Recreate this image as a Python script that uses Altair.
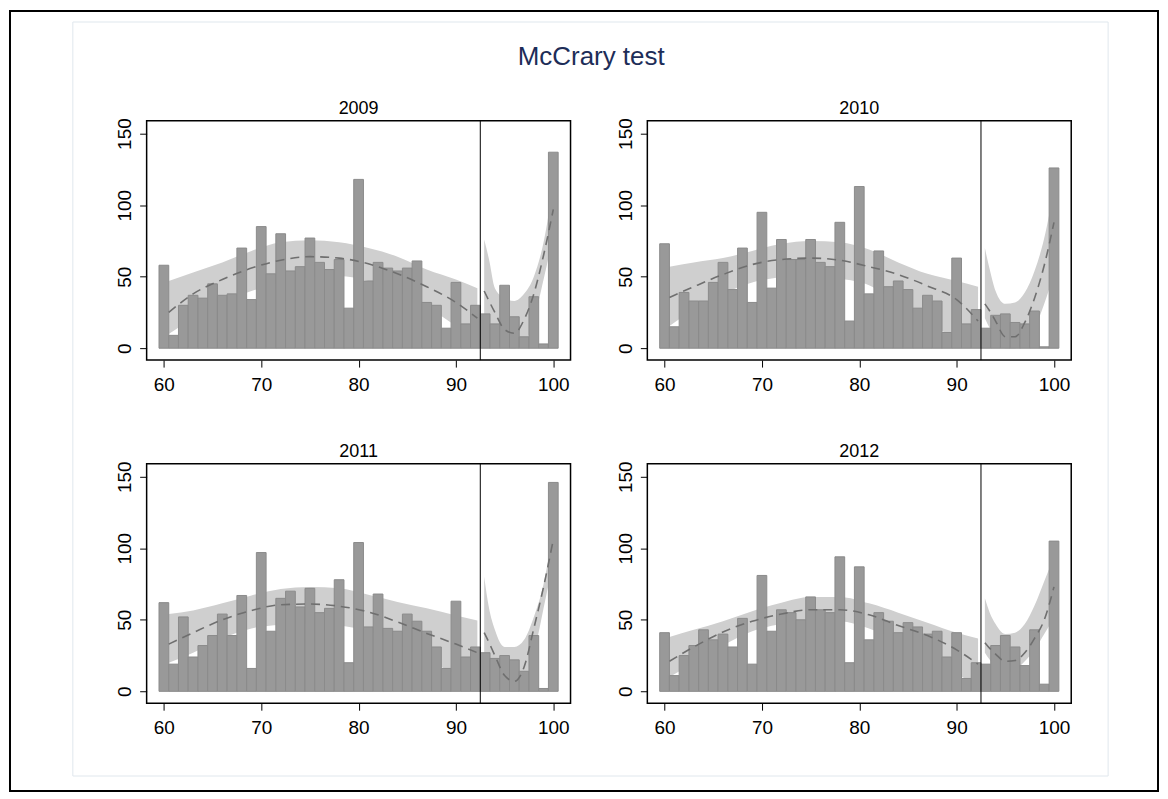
import altair as alt
import pandas as pd

# ---------------- data ----------------
years = [2009, 2010, 2011, 2012]
score = list(range(60, 101))

counts = {
    2009: [58, 9, 30, 37, 35, 45, 37, 38, 70, 34, 85, 52, 80, 54, 57, 77, 60, 55, 62, 28,
           118, 47, 60, 56, 54, 56, 61, 32, 30, 14, 46, 17, 30, 24, 17, 44, 22, 8, 36, 3, 137],
    2010: [73, 15, 39, 33, 33, 46, 60, 41, 70, 32, 95, 42, 76, 62, 62, 76, 60, 57, 88, 19,
           113, 38, 68, 43, 47, 41, 28, 37, 33, 11, 63, 17, 27, 14, 23, 24, 18, 17, 26, 1, 126],
    2011: [62, 19, 52, 24, 32, 39, 54, 39, 67, 16, 97, 42, 65, 70, 59, 72, 55, 58, 78, 20,
           104, 45, 68, 44, 42, 54, 49, 42, 31, 16, 63, 24, 31, 27, 23, 25, 22, 14, 39, 2, 146],
    2012: [41, 11, 25, 32, 43, 36, 40, 31, 51, 19, 81, 42, 57, 55, 50, 66, 57, 55, 94, 20,
           87, 36, 55, 49, 41, 48, 45, 40, 42, 24, 41, 9, 20, 19, 32, 39, 31, 18, 43, 5, 105],
}

left_x = [60.5, 63, 66, 69, 72, 75, 78, 81, 84, 87, 90, 92.2]
right_x = [92.9, 93.4, 94, 95, 96, 97, 98, 99, 100]

fit_left = {
    2009: [25, 38, 48, 56, 61.5, 64, 63, 59, 52, 43, 32, 21],
    2010: [35.5, 43, 51.5, 58.5, 62, 63, 61.5, 57, 51.5, 43.5, 34, 19],
    2011: [33, 41, 50, 56.5, 60.5, 61, 59.5, 55.5, 48.5, 40.5, 33, 27],
    2012: [21, 31, 41.5, 49, 54, 57, 57, 53.5, 46, 39, 29, 19],
}
lo_left = {
    2009: [10, 21, 32, 40, 46, 50, 50.5, 47, 40, 29, 15.5, 4],
    2010: [15.5, 27, 38, 46, 49.5, 50, 48.5, 44, 30.6, 19, 6, 1],
    2011: [20, 27, 37, 44, 46.5, 47.5, 46, 42, 33, 22, 12, 5],
    2012: [10, 20, 32, 42, 47, 49.4, 49, 44, 35, 25, 12, 5],
}
hi_left = {
    2009: [47, 53, 60, 68, 74, 75.5, 74, 70, 64, 55, 48, 42],
    2010: [57, 60, 63, 68, 73, 75, 74, 69, 60, 52, 47, 43],
    2011: [54, 56.5, 61.5, 67, 71.5, 73, 72, 67.5, 62.5, 58, 53, 49.5],
    2012: [38, 43, 49, 56, 62, 66, 66, 61.5, 55, 48, 41, 37],
}
fit_right = {
    2009: [40, 33, 25, 13, 10.5, 20, 38, 65, 97],
    2010: [31, 26, 19, 8, 8, 18, 35, 58, 88],
    2011: [41, 34, 25, 11, 7, 17, 44, 73, 106],
    2012: [34, 30, 26, 21, 21.5, 27, 37, 50, 73],
}
lo_right = {
    2009: [21, 10, 4, 0.5, 0, 3, 20, 48, 79],
    2010: [21, 14, 7, 0, 0, 5, 14, 31, 52],
    2011: [24, 15, 5, 0, 0, 4, 26, 58, 91],
    2012: [27, 22, 17, 13, 15, 21, 29, 40, 51],
}
hi_right = {
    2009: [76, 62, 42, 35, 33, 38, 50, 74, 115],
    2010: [70, 55, 40, 31, 32, 39, 54, 77, 112],
    2011: [80, 58, 43, 31, 31, 36, 52, 75, 114],
    2012: [65, 55, 47, 40, 41, 47, 60, 77, 94],
}

cutoff = 92.5
x_ticks = [60, 70, 80, 90, 100]
y_ticks = [0, 50, 100, 150]
main_title = "McCrary test"

# ---------------- styling ----------------
FONT = "Liberation Sans"
PW, PH = 425, 240
BAR_FILL = "#999999"
BAR_STROKE = "#8b8b8b"
BAND = "#cfcfcf"
LINE = "#6f6f6f"

one = pd.DataFrame({"k": [0]})


def panel(year, decorate=False):
    bars_df = pd.DataFrame({"score": score, "count": counts[year]})
    curve_df = pd.concat([
        pd.DataFrame({"x": left_x, "c": fit_left[year], "lo": lo_left[year],
                      "hi": hi_left[year], "seg": "left"}),
        pd.DataFrame({"x": right_x, "c": fit_right[year], "lo": lo_right[year],
                      "hi": hi_right[year], "seg": "right"}),
    ], ignore_index=True)

    xs = alt.Scale(domain=[58.23, 101.77], nice=False, zero=False)
    ys = alt.Scale(domain=[-8.3, 159], nice=False, zero=False)
    xaxis = alt.Axis(values=x_ticks, title=None, format="d", labelPadding=8)
    yaxis = alt.Axis(values=y_ticks, title=None, format="d", labelAngle=270,
                     labelAlign="center", labelBaseline="alphabetic", labelPadding=9)

    band = alt.Chart(curve_df).mark_area(color=BAND, interpolate="monotone").encode(
        x=alt.X("x:Q", scale=xs, axis=xaxis),
        y=alt.Y("lo:Q", scale=ys, axis=yaxis),
        y2="hi:Q",
        detail="seg:N",
    )
    bars = alt.Chart(bars_df).transform_calculate(
        x0="datum.score - 0.5", x1="datum.score + 0.5"
    ).mark_bar(fill=BAR_FILL, stroke=BAR_STROKE, strokeWidth=1).encode(
        x="x0:Q", x2="x1:Q",
        y="count:Q", y2=alt.datum(0),
    )
    line = alt.Chart(curve_df).mark_line(
        color=LINE, strokeWidth=1.6, strokeDash=[9, 6], interpolate="monotone"
    ).encode(x="x:Q", y="c:Q", detail="seg:N")
    rule = alt.Chart(one).mark_rule(color="black", strokeWidth=1).encode(
        x=alt.datum(cutoff)
    )
    ptitle = alt.Chart(one).mark_text(
        text=str(year), font=FONT, fontSize=18, color="black",
        align="center", baseline="alphabetic"
    ).encode(x=alt.value(PW / 2), y=alt.value(-6.5))

    layers = [band, bars, line, rule, ptitle]
    if decorate:
        inner = alt.Chart(one).mark_rect(
            fillOpacity=0, stroke="#e0e7ed", strokeWidth=1
        ).encode(x=alt.value(-74), x2=alt.value(964), y=alt.value(-99), y2=alt.value(657))
        border = alt.Chart(one).mark_rect(
            fillOpacity=0, stroke="black", strokeWidth=2
        ).encode(x=alt.value(-137), x2=alt.value(1014), y=alt.value(-110), y2=alt.value(672))
        mtitle = alt.Chart(one).mark_text(
            text=main_title, font=FONT, fontSize=26, color="#1d2d58",
            align="center", baseline="alphabetic"
        ).encode(x=alt.value(445.7), y=alt.value(-56.3))
        layers = [inner, border, mtitle] + layers
    return alt.layer(*layers).properties(width=PW, height=PH)


chart = alt.concat(
    panel(2009, decorate=True), panel(2010), panel(2011), panel(2012),
    columns=2, spacing={"row": 104, "column": 77}, bounds="flush",
).properties(padding=0).configure_view(
    stroke="black", strokeWidth=1.5
).configure_axis(
    domain=False, grid=False, ticks=True, tickColor="black", tickSize=7, tickWidth=1,
    labelFont=FONT, labelFontSize=19, labelColor="black",
)

chart.save("out.html", embed_options={"renderer": "svg", "actions": False})
